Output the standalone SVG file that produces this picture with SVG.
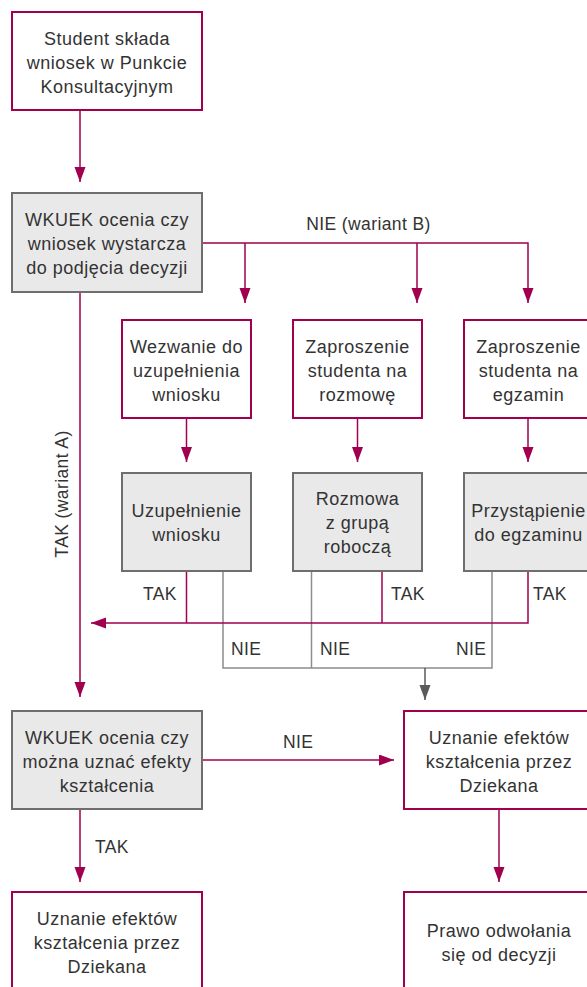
<svg xmlns="http://www.w3.org/2000/svg" width="587" height="987" viewBox="0 0 587 987">
<style>
.box{fill:#ffffff;stroke:#a0004e;stroke-width:2}
.gbox{fill:#e9e9e9;stroke:#6e6e6e;stroke-width:2}
text{font-family:"Liberation Sans","DejaVu Sans",sans-serif;font-size:18px;fill:#333333;letter-spacing:0.5px}
.c{text-anchor:middle}
.lbl{font-size:17.5px;letter-spacing:0.4px}
.m{fill:none;stroke:#a0004e;stroke-width:1.5}
.g{fill:none;stroke:#8c8c8c;stroke-width:1.5}
.ga{fill:none;stroke:#5a5a5a;stroke-width:1.5}
</style>
<defs>
<marker id="am" markerUnits="userSpaceOnUse" markerWidth="16" markerHeight="12" refX="15" refY="5.5" orient="auto">
<path d="M0,0 L15,5.5 L0,11 z" fill="#a0004e"/>
</marker>
<marker id="ag" markerUnits="userSpaceOnUse" markerWidth="16" markerHeight="12" refX="15" refY="5.5" orient="auto">
<path d="M0,0 L15,5.5 L0,11 z" fill="#5a5a5a"/>
</marker>
</defs>
<rect width="587" height="987" fill="#ffffff"/>

<g id="connectors">
<path class="m" d="M80,110 V182" marker-end="url(#am)"/>
<path class="m" d="M202,243 H528 V303" marker-end="url(#am)"/>
<path class="m" d="M245,243 V303" marker-end="url(#am)"/>
<path class="m" d="M417,243 V303" marker-end="url(#am)"/>
<path class="m" d="M80,292 V697" marker-end="url(#am)"/>
<path class="m" d="M186.5,418 V462" marker-end="url(#am)"/>
<path class="m" d="M357.5,418 V462" marker-end="url(#am)"/>
<path class="m" d="M528,418 V462" marker-end="url(#am)"/>
<path class="g" d="M223,571 V668 H492 V571"/>
<path class="g" d="M311.5,571 V668"/>
<path class="ga" d="M425,668 V700" marker-end="url(#ag)"/>
<path class="m" d="M528,571 V623 H91" marker-end="url(#am)"/>
<path class="m" d="M186.5,571 V623"/>
<path class="m" d="M382,571 V623"/>
<path class="m" d="M202,760 H394" marker-end="url(#am)"/>
<path class="m" d="M80,809 V882" marker-end="url(#am)"/>
<path class="m" d="M499,809 V882" marker-end="url(#am)"/>
<text class="lbl c" x="368.5" y="230">NIE (wariant B)</text>
<text class="lbl c" transform="translate(68,494) rotate(-90)">TAK (wariant A)</text>
<text class="lbl" x="143" y="600">TAK</text>
<text class="lbl" x="391" y="600">TAK</text>
<text class="lbl" x="533" y="600">TAK</text>
<text class="lbl" x="231" y="655">NIE</text>
<text class="lbl" x="320" y="655">NIE</text>
<text class="lbl" x="456" y="655">NIE</text>
<text class="lbl" x="283" y="748">NIE</text>
<text class="lbl" x="95" y="853">TAK</text>
</g>

<g id="n1">
<rect class="box" x="12" y="12" width="190" height="98"/>
<text class="c" x="107" y="45">Student składa</text>
<text class="c" x="107" y="69">wniosek w Punkcie</text>
<text class="c" x="107" y="93">Konsultacyjnym</text>
</g>

<g id="n2">
<rect class="gbox" x="12" y="193" width="190" height="99"/>
<text class="c" x="107" y="226">WKUEK ocenia czy</text>
<text class="c" x="107" y="250">wniosek wystarcza</text>
<text class="c" x="107" y="274">do podjęcia decyzji</text>
</g>

<g id="n3">
<rect class="box" x="122" y="320" width="129" height="98"/>
<text class="c" x="186.5" y="353">Wezwanie do</text>
<text class="c" x="186.5" y="377">uzupełnienia</text>
<text class="c" x="186.5" y="401">wniosku</text>
</g>

<g id="n4">
<rect class="box" x="293" y="320" width="129" height="98"/>
<text class="c" x="357.5" y="353">Zaproszenie</text>
<text class="c" x="357.5" y="377">studenta na</text>
<text class="c" x="357.5" y="401">rozmowę</text>
</g>

<g id="n5">
<rect class="box" x="464" y="320" width="129" height="98"/>
<text class="c" x="528.5" y="353">Zaproszenie</text>
<text class="c" x="528.5" y="377">studenta na</text>
<text class="c" x="528.5" y="401">egzamin</text>
</g>

<g id="n6">
<rect class="gbox" x="122" y="473" width="129" height="98"/>
<text class="c" x="186.5" y="517">Uzupełnienie</text>
<text class="c" x="186.5" y="541">wniosku</text>
</g>

<g id="n7">
<rect class="gbox" x="293" y="473" width="129" height="98"/>
<text class="c" x="357.5" y="505">Rozmowa</text>
<text class="c" x="357.5" y="529">z grupą</text>
<text class="c" x="357.5" y="553">roboczą</text>
</g>

<g id="n8">
<rect class="gbox" x="464" y="473" width="129" height="98"/>
<text class="c" x="528.5" y="517">Przystąpienie</text>
<text class="c" x="528.5" y="541">do egzaminu</text>
</g>

<g id="n9">
<rect class="gbox" x="12" y="711" width="190" height="98"/>
<text class="c" x="107" y="744">WKUEK ocenia czy</text>
<text class="c" x="107" y="768">można uznać efekty</text>
<text class="c" x="107" y="792">kształcenia</text>
</g>

<g id="n10">
<rect class="box" x="404" y="711" width="190" height="98"/>
<text class="c" x="499" y="744">Uznanie efektów</text>
<text class="c" x="499" y="768">kształcenia przez</text>
<text class="c" x="499" y="792">Dziekana</text>
</g>

<g id="n11">
<rect class="box" x="12" y="892" width="190" height="98"/>
<text class="c" x="107" y="925">Uznanie efektów</text>
<text class="c" x="107" y="949">kształcenia przez</text>
<text class="c" x="107" y="973">Dziekana</text>
</g>

<g id="n12">
<rect class="box" x="404" y="892" width="190" height="98"/>
<text class="c" x="499" y="937">Prawo odwołania</text>
<text class="c" x="499" y="961">się od decyzji</text>
</g>
</svg>
